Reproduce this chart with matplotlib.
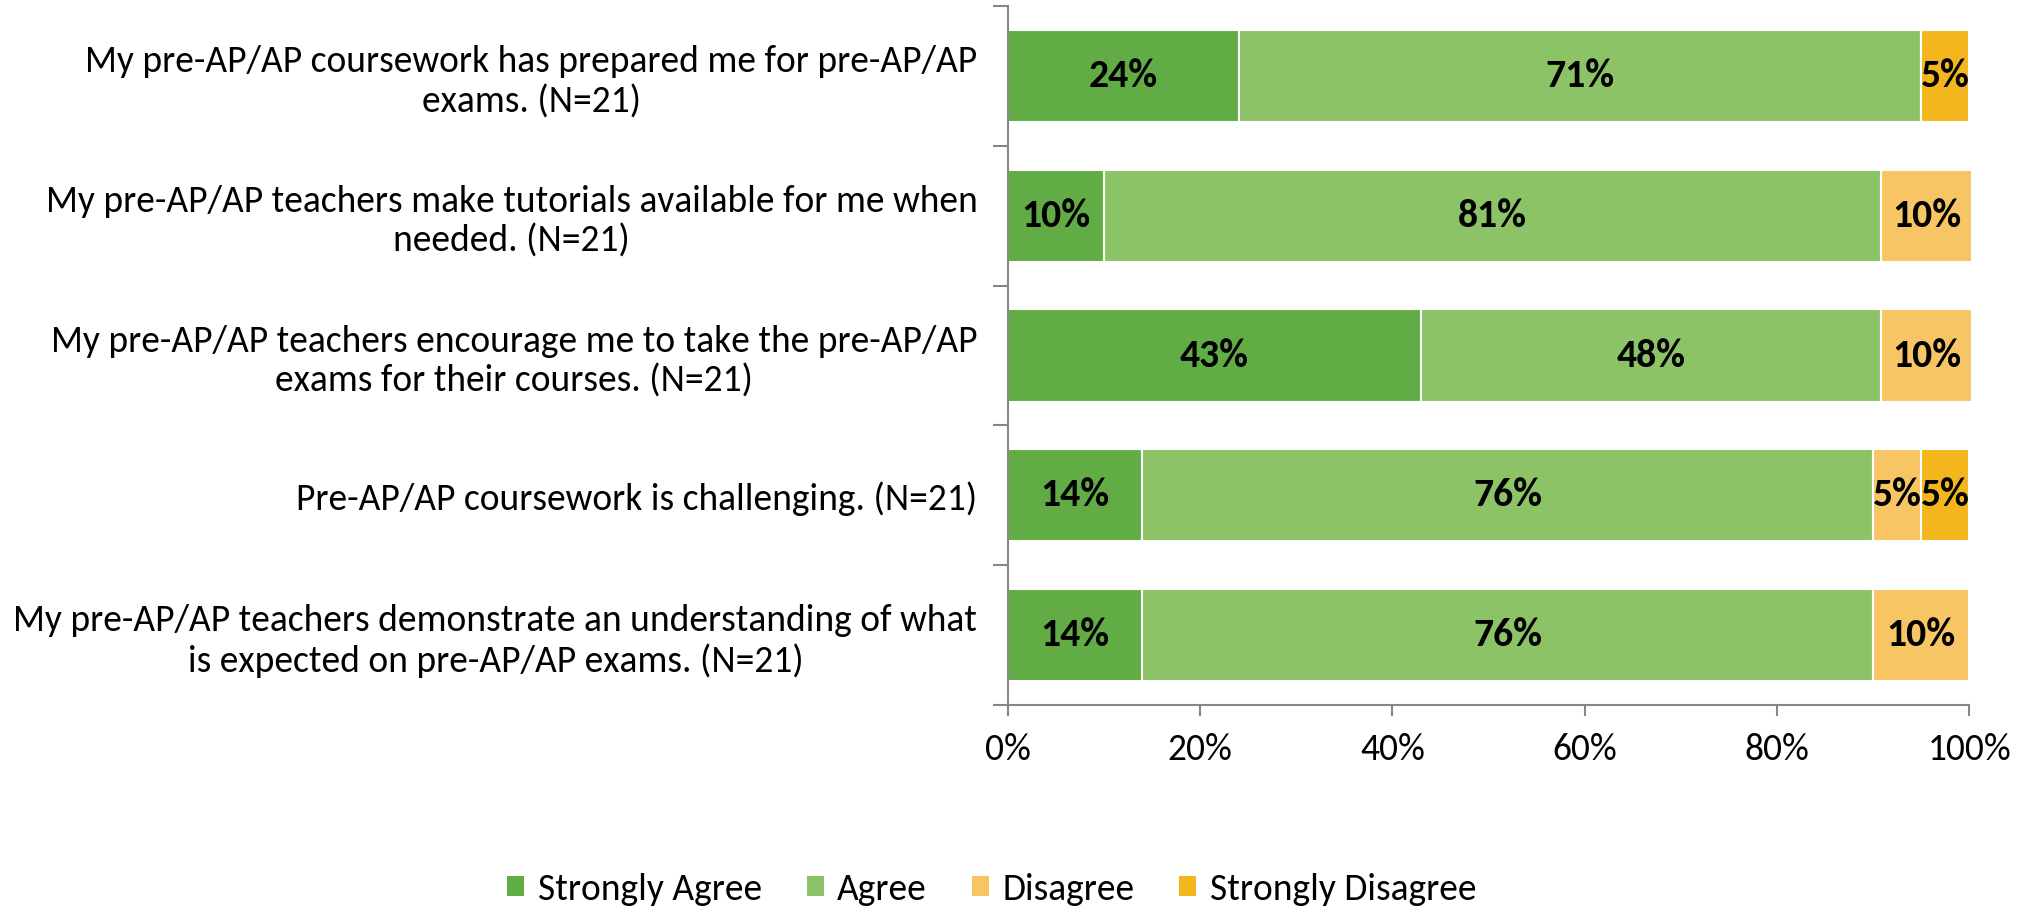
import numpy as np
import matplotlib.pyplot as plt
from matplotlib.patches import Patch

plt.rcParams['font.family'] = ['Carlito', 'Liberation Sans Narrow', 'Open Sans', 'DejaVu Sans']

# Data
questions = [
    "My pre-AP/AP coursework has prepared me for pre-AP/AP\nexams. (N=21)",
    "My pre-AP/AP teachers make tutorials available for me when\nneeded. (N=21)",
    "My pre-AP/AP teachers encourage me to take the pre-AP/AP\nexams for their courses. (N=21)",
    "Pre-AP/AP coursework is challenging. (N=21)",
    "My pre-AP/AP teachers demonstrate an understanding of what\nis expected on pre-AP/AP exams. (N=21)",
]
strongly_agree = [24, 10, 43, 14, 14]
agree = [71, 80.8, 47.8, 76, 76]
disagree = [0, 9.5, 9.5, 5, 10]
strongly_disagree = [5, 0, 0, 5, 0]

series_names = ["Strongly Agree", "Agree", "Disagree", "Strongly Disagree"]
series_colors = ["#62AC46", "#8CC366", "#F7C563", "#F3B71D"]
series = [strongly_agree, agree, disagree, strongly_disagree]

fs = 27
gray = "#868686"

fig = plt.figure(figsize=(20.28, 9.09), dpi=100)
ax = fig.add_axes([0.497, 0.2244, 0.474, 0.769])

y = np.arange(len(questions))
left = np.zeros(len(questions))
for vals, col in zip(series, series_colors):
    vals = np.array(vals, dtype=float)
    bars = ax.barh(y, vals, left=left, height=0.66, color=col,
                   edgecolor="white", linewidth=1.5, clip_on=False)
    for b, v in zip(bars, vals):
        if v > 0:
            ax.text(b.get_x() + b.get_width() / 2, b.get_y() + b.get_height() / 2,
                    f"{v:.0f}%", ha="center", va="center",
                    fontsize=28.5, fontweight="bold", color="black")
    left += vals

ax.set_xlim(0, 100)
ax.set_ylim(len(questions) - 0.5, -0.5)
ax.set_xticks(np.arange(0, 101, 20))
ax.set_xticklabels([f"{t}%" for t in range(0, 101, 20)])
ax.set_yticks(y)
ax.set_yticklabels(questions)
ax.set_yticks(np.arange(-0.5, len(questions), 1.0), minor=True)

ax.tick_params(axis="y", which="major", length=0, pad=22, labelsize=fs)
ax.tick_params(axis="y", which="minor", length=11, color=gray, width=1.5)
ax.tick_params(axis="x", length=8, color=gray, width=1.5, pad=12, labelsize=fs)
for lab in ax.get_yticklabels():
    lab.set_multialignment("center")

for s in ["top", "right"]:
    ax.spines[s].set_visible(False)
for s in ["left", "bottom"]:
    ax.spines[s].set_color(gray)
    ax.spines[s].set_linewidth(1.5)

handles = [Patch(facecolor=c, edgecolor="none") for c in series_colors]
fig.legend(handles, series_names, loc="center", bbox_to_anchor=(0.489, 0.022),
           ncol=4, frameon=False, fontsize=fs, handlelength=0.45, handleheight=0.45,
           handletextpad=0.36, columnspacing=1.2)

fig.savefig("out.png", dpi=100)
